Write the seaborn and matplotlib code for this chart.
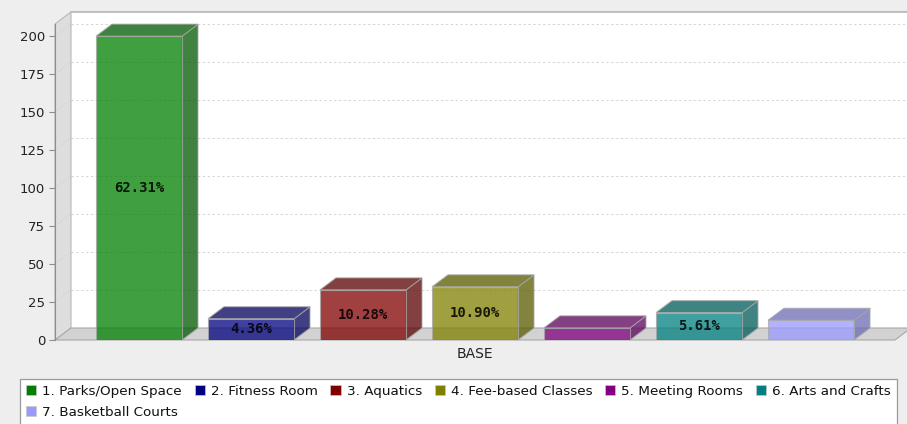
import numpy as np
import pandas as pd
import matplotlib
matplotlib.use("Agg")
import matplotlib.pyplot as plt
import seaborn as sns
from matplotlib.patches import Polygon, Rectangle, Patch
from matplotlib.colors import to_rgb


# data (total = 321 answers)
group = "BASE"
facilities = ["1. Parks/Open Space", "2. Fitness Room", "3. Aquatics",
              "4. Fee-based Classes", "5. Meeting Rooms", "6. Arts and Crafts",
              "7. Basketball Courts"]
counts = [200, 14, 33, 35, 8, 18, 13]
bar_labels = ["62.31%", "4.36%", "10.28%", "10.90%", "", "5.61%", ""]
colours = ["#008000", "#000080", "#800000", "#808000",
           "#800080", "#008080", "#9999ff"]
y_ticks = [0, 25, 50, 75, 100, 125, 150, 175, 200]

# 3d depth in pixels
DX = 16
DY = 12

df = pd.DataFrame({"group": [group] * len(facilities),
                   "facility": facilities,
                   "count": counts})

fig = plt.figure(figsize=(9.07, 4.24), dpi=100, facecolor="#eeeeee")
ax = fig.add_axes([55 / 907, 84 / 424, 840 / 907, 316 / 424])
ax.patch.set_visible(False)

sns.barplot(data=df, x="group", y="count", hue="facility",
            hue_order=facilities, palette=colours, saturation=1,
            width=0.8, gap=0.232, alpha=0.75, edgecolor="#a8a8a8",
            linewidth=0.8, legend=False, ax=ax, zorder=3)

ax.set_xlim(-420 / 980, 420 / 980)
ax.set_ylim(0, 208)
x0, x1 = ax.get_xlim()
y0, y1 = ax.get_ylim()
bb = ax.get_window_extent()
ddx = DX * (x1 - x0) / bb.width
ddy = DY * (y1 - y0) / bb.height

# back wall, left wall and floor
ax.add_patch(Rectangle((x0 + ddx, y0 + ddy), x1 - x0, y1 - y0,
                       facecolor="white", edgecolor="none",
                       zorder=0.1, clip_on=False))
ax.plot([x0 + ddx, x1 + ddx], [y1 + ddy] * 2, color="#b4b4b4", lw=1.2,
        zorder=0.2, clip_on=False)
for t in y_ticks[1:]:
    ax.plot([x0 + ddx, x1 + ddx], [t + ddy] * 2, color="#d6d6d6", lw=0.7,
            ls=(0, (2.5, 2.5)), zorder=0.3, clip_on=False)
ax.add_patch(Polygon([(x0, y0), (x0 + ddx, y0 + ddy), (x0 + ddx, y1 + ddy),
                      (x0, y1)], closed=True, facecolor="#dedede",
                     edgecolor="#b8b8b8", lw=0.8, zorder=0.4, clip_on=False))
for t in y_ticks[1:]:
    ax.plot([x0, x0 + ddx], [t, t + ddy], color="#cfcfcf", lw=0.6,
            ls=(0, (2, 2)), zorder=0.5, clip_on=False)
ax.add_patch(Polygon([(x0, y0), (x1, y0), (x1 + ddx, y0 + ddy),
                      (x0 + ddx, y0 + ddy)], closed=True, facecolor="#d2d2d2",
                     edgecolor="#a8a8a8", lw=0.8, zorder=0.6, clip_on=False))

# side and top faces of the bars
bars = sorted([p for p in ax.patches if p.get_zorder() == 3],
              key=lambda p: p.get_x())
for p, c, lab in zip(bars, colours, bar_labels):
    bx, w, h = p.get_x(), p.get_width(), p.get_height()
    dark = tuple(v * 0.7 for v in to_rgb(c))
    side = [(bx + w, 0), (bx + w + ddx, ddy), (bx + w + ddx, h + ddy), (bx + w, h)]
    top = [(bx, h), (bx + ddx, h + ddy), (bx + w + ddx, h + ddy), (bx + w, h)]
    for face in (side, top):
        ax.add_patch(Polygon(face, closed=True, facecolor=dark, alpha=0.75,
                             edgecolor="#a8a8a8", lw=0.8, zorder=2.9,
                             clip_on=False))
    if lab:
        ax.text(bx + w / 2, h / 2, lab, ha="center", va="center",
                fontfamily="DejaVu Sans Mono", fontweight="bold",
                fontsize=10, color="black", alpha=0.85, zorder=4)

for s in ["top", "right", "bottom"]:
    ax.spines[s].set_visible(False)
ax.spines["left"].set_color("#8c8c8c")
ax.spines["left"].set_zorder(0.7)
ax.set_yticks(y_ticks)
ax.tick_params(axis="y", length=4, width=0.8, color="#8c8c8c",
               labelsize=9.5, labelcolor="#222222", pad=3)
ax.tick_params(axis="x", length=0, labelsize=10, labelcolor="#222222", pad=5)
ax.set_xlabel("")
ax.set_ylabel("")

# legend, 6 entries then 1 on the second row
order = [0, 6, 1, 2, 3, 4, 5]
handles = [Patch(facecolor=colours[i], edgecolor="#c8c8c8", lw=0.5) for i in order]
labels = [facilities[i] for i in order]
leg = fig.legend(handles, labels, loc="upper left",
                 bbox_to_anchor=(20 / 907, 1 - 379 / 424), ncol=6,
                 frameon=True, fancybox=False, edgecolor="#9a9a9a",
                 facecolor="white", framealpha=1,
                 fontsize=9.7, handlelength=0.75, handleheight=0.75,
                 handletextpad=0.45, columnspacing=0.95, borderpad=0.45,
                 borderaxespad=0, labelspacing=0.58)
leg.get_frame().set_linewidth(0.9)
for t in leg.get_texts():
    t.set_color("#111111")

fig.savefig("out.png", dpi=100, facecolor=fig.get_facecolor())
